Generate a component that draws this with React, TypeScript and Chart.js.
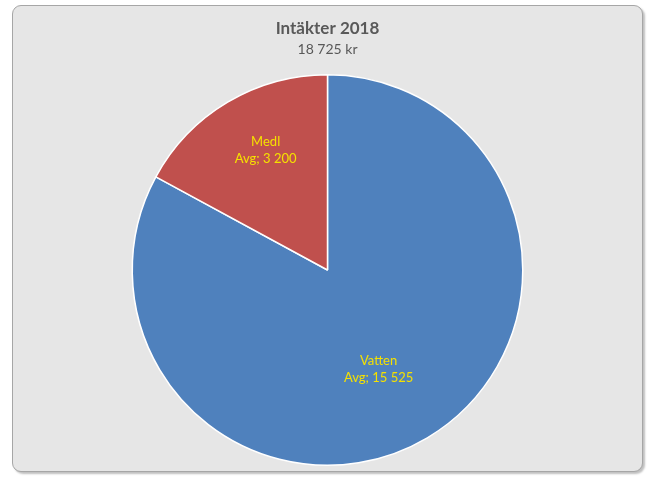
import React, { useEffect, useRef } from "react";
import { Chart, registerables } from "chart.js";

Chart.register(...registerables);

const titleText = "Intäkter 2018";
const subtitleText = "18 725 kr";
const categories = ["Vatten", "Medl"];
const values = [15525, 3200];
const colors = ["#4F81BD", "#C0504D"];
const labelPrefix = "Avg; ";

const fmt = (v: number) => v.toLocaleString("sv-SE").replace(/\u00a0/g, " ");

const labelPlugin = {
  id: "sliceLabels",
  afterDatasetsDraw(chart: any) {
    const ctx = chart.ctx;
    const meta = chart.getDatasetMeta(0);
    const fracs = [0.57, 0.69];
    meta.data.forEach((arc: any, i: number) => {
      const { x, y, startAngle, endAngle, outerRadius } = arc.getProps(
        ["x", "y", "startAngle", "endAngle", "outerRadius"],
        true
      );
      const mid = (startAngle + endAngle) / 2 + 0.06;
      const r = outerRadius * fracs[i];
      const cx = x + Math.cos(mid) * r;
      const cy = y + Math.sin(mid) * r;
      ctx.save();
      ctx.fillStyle = "#F5E100";
      ctx.font = "13px Lato, 'Open Sans', sans-serif";
      ctx.textAlign = "center";
      ctx.textBaseline = "middle";
      ctx.fillText(categories[i], cx, cy - 8.5);
      ctx.fillText(labelPrefix + fmt(values[i]), cx, cy + 8.5);
      ctx.restore();
    });
  },
};

export default function App() {
  const ref = useRef<HTMLCanvasElement>(null);
  useEffect(() => {
    if (!ref.current) return;
    const chart = new Chart(ref.current, {
      type: "pie",
      data: {
        labels: categories,
        datasets: [
          {
            data: values,
            backgroundColor: colors,
            borderColor: "#FFFFFF",
            borderWidth: 1.5,
          },
        ],
      },
      options: {
        animation: false,
        responsive: false,
        maintainAspectRatio: false,
        layout: { padding: { bottom: 5 } },
        plugins: {
          legend: { display: false },
          tooltip: { enabled: false },
          title: {
            display: true,
            text: titleText,
            color: "#595959",
            font: { family: "Lato, 'Open Sans', sans-serif", size: 17, weight: "bold" },
            padding: { top: 12.8, bottom: 0 },
          },
          subtitle: {
            display: true,
            text: subtitleText,
            color: "#595959",
            font: { family: "Lato, 'Open Sans', sans-serif", size: 14 },
            padding: { top: 2, bottom: 16 },
          },
        },
      },
      plugins: [labelPlugin],
    });
    return () => chart.destroy();
  }, []);

  return (
    <div style={{ position: "fixed", left: 0, top: 0, width: 655, height: 477, background: "#FFFFFF" }}>
      <div
        style={{
          position: "absolute",
          left: 12,
          top: 5,
          width: 631,
          height: 467,
          boxSizing: "border-box",
          background: "#E6E6E6",
          border: "1px solid #A6A6A6",
          borderRadius: 9,
          boxShadow: "2px 2px 2px rgba(0,0,0,0.25)",
          overflow: "hidden",
        }}
      >
        <canvas ref={ref} width={629} height={465} style={{ display: "block" }} />
      </div>
    </div>
  );
}
